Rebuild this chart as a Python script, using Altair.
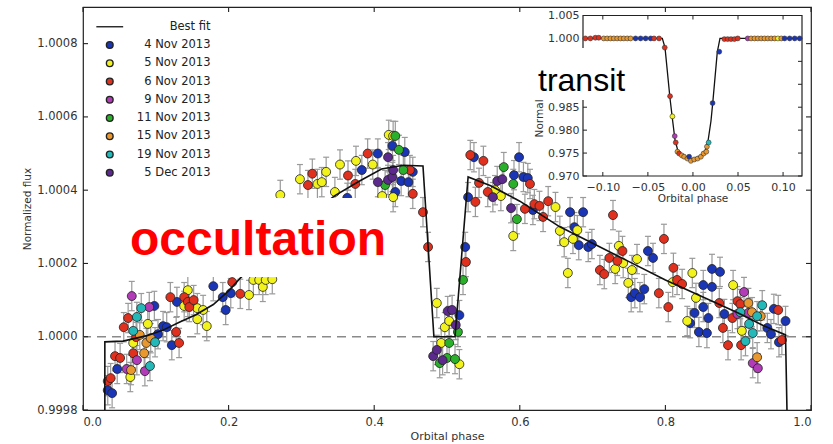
import altair as alt
import pandas as pd

# ---------------- data ----------------
SESSIONS = ["4 Nov 2013", "5 Nov 2013", "6 Nov 2013", "9 Nov 2013",
            "11 Nov 2013", "15 Nov 2013", "19 Nov 2013", "5 Dec 2013"]
COLORS = ["#1a35b5", "#f2f21c", "#e0301e", "#b23bb8",
          "#2ab02a", "#e8982e", "#25b8b8", "#5b2a8c"]

# occultation / phase-curve points: orbital phase and flux offset (ppm)
NOV04_PH = [0.034, 0.040, 0.047, 0.098, 0.103, 0.110, 0.115, 0.122, 0.129, 0.179, 0.192, 0.196, 0.203, 0.363,
            0.383, 0.405,
            0.425, 0.429, 0.437, 0.442, 0.447, 0.453, 0.517, 0.525, 0.529, 0.537, 0.592, 0.599, 0.605, 0.611,
            0.618, 0.669, 0.675, 0.681, 0.687, 0.694, 0.699, 0.753, 0.758, 0.765, 0.771, 0.776, 0.783, 0.834,
            0.840, 0.846, 0.852, 0.852, 0.857, 0.859, 0.864, 0.864, 0.875, 0.881, 0.940, 0.945, 0.949, 0.956, 0.965]
NOV04_PPM = [-146, -154, -88, 84, 7, 29, 26, -23, 95, 138, 108, 73, 119, 379,
             455, 500,
             521, 395, 425, 504, 422, 450, 59, 245, 381, 490, 441, 490, 436, 433,
             346, 340, 299, 250, 340, 245, 253, 108, 119, 108, 130, 234, 215, 37,
             65, 13, 141, 81, 10, 51, 185, 136, 177, 62, 24, 7, 76, -15, 43]
NOV05_PH = [0.065, 0.069, 0.089, 0.139, 0.144, 0.157, 0.157, 0.165, 0.170, 0.228, 0.234, 0.242, 0.247, 0.251,
            0.260, 0.271, 0.298, 0.322, 0.328, 0.334, 0.346, 0.353, 0.375, 0.398, 0.411, 0.420, 0.426, 0.426,
            0.486, 0.492, 0.497, 0.503, 0.517,
            0.566, 0.574, 0.591, 0.649, 0.655, 0.661, 0.666, 0.673, 0.679, 0.731, 0.736, 0.742, 0.749, 0.754,
            0.761, 0.810, 0.830, 0.837, 0.842, 0.893, 0.905]
NOV05_PPM = [-110, -17, 35, 84, 127, 78, 48, 73, 29, 114, 155, 155, 136, 155,
             157, 387, 430, 417, 422, 450, 395, 470, 480, 470, 384, 551, 548, 381,
             92, -17, 26, 43, -75,
             400, 384, 275, 354, 289, 258, 174, 267, 291, 185, 248, 201, 147, 182,
             212, 149, 43, 174, 106, 141, 16]
NOV06_PH = [0.034, 0.038, 0.044, 0.051, 0.056, 0.062, 0.069, 0.073, 0.120, 0.128, 0.132, 0.139, 0.144, 0.146,
            0.152, 0.205, 0.216, 0.309, 0.315, 0.364, 0.374, 0.391, 0.449, 0.453, 0.467, 0.474, 0.526, 0.532,
            0.539, 0.544, 0.550,
            0.556, 0.607, 0.614, 0.620, 0.627, 0.632, 0.639, 0.710, 0.716, 0.723, 0.728, 0.734, 0.741, 0.791,
            0.798, 0.804, 0.811, 0.816, 0.823, 0.874, 0.879, 0.886, 0.892, 0.899, 0.903, 0.904, 0.955, 0.960]
NOV06_PPM = [-121, -113, -53, -58, 26, 51, -45, -1, 108, 13, -17, 108, 95, 81,
             100, 149, 117, 414, 445, 440, 417, 500, 455, 390, 340, 245, 204, 496,
             368, 420, 480,
             395, 349, 417, 362, 357, 327, 370, 182, 171, 215, 332, 207, 234, 119,
             267, 81, 188, 155, 144, 92, 24, -23, 51, 97, 89, -23, 73, -9]
NOV09_PH = [0.060, 0.067, 0.074, 0.085, 0.091, 0.899, 0.908, 0.914, 0.920, 0.927]
NOV09_PPM = [-88, 111, -64, -94, 81, 62, 122, 65, -72, -86]
NOV11_PH = [0.415, 0.429, 0.434, 0.440, 0.490, 0.500, 0.503, 0.511, 0.515, 0.522, 0.578, 0.591, 0.596]
NOV11_PPM = [414, 548, 510, 455, -72, -58, -17, -61, 13, 155, 463, 417, 321]
NOV15_PH = [0.066, 0.078, 0.084, 0.087, 0.093, 0.914, 0.919, 0.926, 0.931]
NOV15_PPM = [-91, 5, -45, -17, -4, 92, 67, -56, 56]
NOV19_PH = [0.069, 0.074, 0.080, 0.092, 0.099, 0.903, 0.910, 0.915, 0.920, 0.926, 0.933]
NOV19_PPM = [16, 54, 78, -80, -15, 67, -12, 35, 10, 56, 86]
DEC05_PH = [0.405, 0.419, 0.419, 0.425, 0.426, 0.481, 0.486, 0.494, 0.501, 0.507, 0.512, 0.563, 0.569, 0.576, 0.588]
DEC05_PPM = [422, 490, 428, 436, 455, -53, -36, -64, 70, 73, 32, 381, 425, 430, 351]

PHASES = [NOV04_PH, NOV05_PH, NOV06_PH, NOV09_PH, NOV11_PH, NOV15_PH, NOV19_PH, DEC05_PH]
PPMS = [NOV04_PPM, NOV05_PPM, NOV06_PPM, NOV09_PPM, NOV11_PPM, NOV15_PPM, NOV19_PPM, DEC05_PPM]
ERR_PPM = [40, 40, 40, 40, 40, 40, 40, 40]

# best-fit model (main panel)
FIT_PH = [0.030, 0.030, 0.055, 0.088, 0.110, 0.133, 0.155, 0.179, 0.200, 0.216, 0.250, 0.280, 0.310,
          0.346, 0.380, 0.410, 0.440, 0.467, 0.482, 0.511, 0.529, 0.560, 0.600, 0.655, 0.700, 0.750,
          0.800, 0.850, 0.900, 0.935, 0.965, 0.967]
FIT_PPM = [-200, -14, -12, 3, 18, 40, 60, 88, 125, 160, 225, 280, 330,
           385, 425, 458, 468, 466, 0, 0, 436, 412, 370, 300, 255, 205,
           155, 110, 65, 30, 5, -200]

# transit inset
TR_PH = [-0.1194, -0.1138, -0.1083, -0.1045, -0.0990, -0.0952, -0.0915, -0.0878, -0.0841, -0.0804, -0.0767,
         -0.0729, -0.0692, -0.0637, -0.0581, -0.0525, -0.0469, -0.0432, -0.0376, -0.0313, -0.0254, -0.0228,
         -0.0202, -0.0191, -0.0172, -0.0153, -0.0124, -0.0098, -0.0061, -0.0042, -0.0023, 0.0014, 0.0051,
         0.0088, 0.0118, 0.0148, 0.0155, 0.0174, 0.0218, 0.0292, 0.0348, 0.0385, 0.0422, 0.0460, 0.0497,
         0.0608, 0.0645, 0.0683, 0.0720, 0.0757, 0.0794, 0.0831, 0.0868, 0.0906, 0.0943, 0.0980, 0.1017,
         0.1073, 0.1129, 0.1184]
TR_FLUX = [1.0000, 1.0000, 1.00015, 1.00015, 1.0000, 1.0000, 1.0000, 1.0000, 1.0000, 1.0000, 1.0000,
           1.0000, 1.0000, 1.0000, 1.0000, 1.0000, 1.0000, 1.0000, 1.0000, 0.9980, 0.9874, 0.9830,
           0.9787, 0.9773, 0.9753, 0.9749, 0.9745, 0.9742, 0.9738, 0.9742, 0.9733, 0.9736, 0.9738,
           0.9742, 0.9749, 0.9753, 0.9764, 0.9773, 0.9859, 0.9971, 0.99985, 0.99985, 0.99985, 0.99985, 1.0000,
           1.0000, 1.0000, 1.0000, 1.0000, 1.0000, 1.0000, 1.0000, 1.0000, 1.0000, 1.0000, 1.0000, 1.0000,
           1.0000, 1.0000, 1.0000]
TR_SESSION = ["6 Nov 2013"] * 4 + ["15 Nov 2013"] * 9 + ["4 Nov 2013"] * 4 + ["6 Nov 2013"] * 4 + \
             ["5 Nov 2013", "9 Nov 2013", "6 Nov 2013", "15 Nov 2013", "6 Nov 2013", "15 Nov 2013",
              "15 Nov 2013", "15 Nov 2013", "4 Nov 2013", "15 Nov 2013", "15 Nov 2013", "15 Nov 2013",
              "15 Nov 2013", "15 Nov 2013", "15 Nov 2013", "15 Nov 2013", "19 Nov 2013", "4 Nov 2013",
              "4 Nov 2013"] + ["6 Nov 2013"] * 5 + ["9 Nov 2013"] + ["15 Nov 2013"] * 8 + \
             ["5 Nov 2013", "15 Nov 2013"] + ["4 Nov 2013"] * 4
TFIT_PH = [-0.122, -0.034, -0.031, -0.0255, -0.0225, -0.020, -0.017, -0.012, -0.006, -0.002, 0.003,
           0.009, 0.014, 0.017, 0.020, 0.022, 0.027, 0.030, 0.121]
TFIT_FLUX = [1.0, 1.0, 0.998, 0.987, 0.982, 0.978, 0.9757, 0.9745, 0.9739, 0.9737, 0.9739,
             0.9745, 0.9757, 0.978, 0.982, 0.986, 0.997, 1.0, 1.0]

MAIN_X_TICKS = [0.0, 0.2, 0.4, 0.6, 0.8, 1.0]
MAIN_Y_TICKS = [0.9998, 1.0000, 1.0002, 1.0004, 1.0006, 1.0008]
INSET_X_TICKS = [-0.10, -0.05, 0.00, 0.05, 0.10]
INSET_Y_TICKS = [0.970, 0.975, 0.980, 0.985, 0.990, 0.995, 1.000, 1.005]
MAIN_XDOM = [0.0, 1.0]
MAIN_YDOM = [0.9998, 1.0009]
INSET_XDOM = [-0.122, 0.121]
INSET_YDOM = [0.970, 1.005]

FONT = "DejaVu Sans"
W, H = 728, 403
TICK_COL = "#222"
INSET_PX = [500, 719]      # inset placement inside the main plot area (pixels)
INSET_PY = [169, 8.5]

# ---------------- tables ----------------
rows = []
for s, phs, pps, e in zip(SESSIONS, PHASES, PPMS, ERR_PPM):
    for p, v in zip(phs, pps):
        rows.append({"session": s, "phase": p, "flux": 1 + v * 1e-6,
                     "lo": 1 + (v - e) * 1e-6, "hi": 1 + (v + e) * 1e-6})
pts = pd.DataFrame(rows)
fit = pd.DataFrame({"phase": FIT_PH, "flux": [1 + v * 1e-6 for v in FIT_PPM], "i": range(len(FIT_PH))})
tr = pd.DataFrame({"tphase": TR_PH, "tflux": TR_FLUX, "session": TR_SESSION})
tfit = pd.DataFrame({"tphase": TFIT_PH, "tflux": TFIT_FLUX, "i": range(len(TFIT_PH))})

# inward tick segments (length in pixels converted to data units of each scale)
def tick_rows(xticks, yticks, xdom, ydom, width_px, height_px, length_px):
    lx = length_px * (xdom[1] - xdom[0]) / width_px
    ly = length_px * (ydom[1] - ydom[0]) / height_px
    out = []
    for t in xticks:
        out.append({"a": t, "a2": t, "b": ydom[0], "b2": ydom[0] + ly})
        out.append({"a": t, "a2": t, "b": ydom[1] - ly, "b2": ydom[1]})
    for t in yticks:
        out.append({"a": xdom[0], "a2": xdom[0] + lx, "b": t, "b2": t})
        out.append({"a": xdom[1] - lx, "a2": xdom[1], "b": t, "b2": t})
    return pd.DataFrame(out)

main_ticks = tick_rows(MAIN_X_TICKS, MAIN_Y_TICKS, MAIN_XDOM, MAIN_YDOM, W, H, 5)
inset_ticks = tick_rows(INSET_X_TICKS, INSET_Y_TICKS, INSET_XDOM, INSET_YDOM,
                        INSET_PX[1] - INSET_PX[0], INSET_PY[0] - INSET_PY[1], 4)

XS = alt.Scale(domain=MAIN_XDOM, nice=False, zero=False)
YS = alt.Scale(domain=MAIN_YDOM, nice=False, zero=False)
AX_X = alt.Axis(values=MAIN_X_TICKS, format=".1f", title="Orbital phase", grid=False, domain=False,
                ticks=False, labelFontSize=11.5, labelColor="#333", labelFont=FONT,
                labelPadding=6, titleFont=FONT, titleFontSize=11, titleFontWeight="normal",
                titleColor="#333", titlePadding=3)
AX_Y = alt.Axis(values=MAIN_Y_TICKS, format=".4f", title="Normalized flux", grid=False, domain=False,
                ticks=False, labelFontSize=11.5, labelColor="#333", labelFont=FONT,
                labelPadding=6, titleFont=FONT, titleFontSize=10.5, titleFontWeight="normal",
                titleColor="#333", titlePadding=4)

def mx(field="phase"):
    return alt.X(f"{field}:Q", scale=XS, axis=AX_X)

def my(field="flux"):
    return alt.Y(f"{field}:Q", scale=YS, axis=AX_Y)

LEG = alt.Legend(title=None, orient="none", legendX=21, legendY=14, symbolSize=45, padding=0,
                 labelFontSize=11.5, labelFont=FONT, labelColor="#222", labelAlign="right",
                 rowPadding=5.25, symbolStrokeColor="#222", symbolStrokeWidth=1.4, labelOffset=95)
DOMAIN = ["Best fit"] + SESSIONS
COLOR = alt.Color("session:N", scale=alt.Scale(domain=DOMAIN, range=["#111111"] + COLORS), legend=LEG)
SHAPE = alt.Shape("session:N", scale=alt.Scale(domain=DOMAIN, range=["M-4,0L4,0"] + ["circle"] * 8),
                  legend=LEG)

base = alt.Chart(pts)
zero_line = alt.Chart(pd.DataFrame({"flux": [1.0]})).mark_rule(
    color="#8a8a8a", strokeWidth=1.6, strokeDash=[9, 6]).encode(y=my())
bars = base.mark_rule(color="#9a9a9a", strokeWidth=1.2).encode(x=mx(), y=my("lo"), y2="hi")
cap_lo = base.mark_point(shape="stroke", size=36, color="#9a9a9a", strokeWidth=1.2, opacity=1).encode(
    x=mx(), y=my("lo"))
cap_hi = base.mark_point(shape="stroke", size=36, color="#9a9a9a", strokeWidth=1.2, opacity=1).encode(
    x=mx(), y=my("hi"))
dots = base.mark_point(filled=True, size=80, stroke="#222", strokeWidth=0.8, opacity=1).encode(
    x=mx(), y=my(), color=COLOR, shape=SHAPE)
fit_line = alt.Chart(fit).mark_line(color="#111", strokeWidth=1.6).encode(x=mx(), y=my(), order="i:Q")
frame_ticks = alt.Chart(main_ticks).mark_rule(color=TICK_COL, strokeWidth=1.1).encode(
    x=mx("a"), x2="a2", y=my("b"), y2="b2")

main = alt.layer(zero_line, bars, cap_lo, cap_hi, dots, fit_line, frame_ticks)

# ---------------- inset ----------------
IXS = alt.Scale(domain=INSET_XDOM, range=INSET_PX, nice=False, zero=False)
IYS = alt.Scale(domain=INSET_YDOM, range=INSET_PY, nice=False, zero=False)
IAX_X = alt.Axis(orient="bottom", offset=-(H - INSET_PY[0]), values=INSET_X_TICKS, format=".2f",
                 title="Orbital phase", grid=False, domain=False, ticks=False,
                 labelFontSize=11, labelColor="#333", labelFont=FONT, labelPadding=5,
                 titleFont=FONT, titleFontSize=10.5, titleFontWeight="normal", titleColor="#333",
                 titlePadding=1)
IAX_Y = alt.Axis(orient="left", offset=-INSET_PX[0], values=INSET_Y_TICKS, format=".3f",
                 title="Normalized flux", grid=False, domain=False, ticks=False,
                 labelFontSize=11, labelColor="#333", labelFont=FONT, labelPadding=4,
                 titleFont=FONT, titleFontSize=10.5, titleFontWeight="normal", titleColor="#333",
                 titlePadding=3)

def ix(field="tphase"):
    return alt.X(f"{field}:Q", scale=IXS, axis=IAX_X)

def iy(field="tflux"):
    return alt.Y(f"{field}:Q", scale=IYS, axis=IAX_Y)

frame_df = pd.DataFrame({"tphase": [INSET_XDOM[0]], "tphase2": [INSET_XDOM[1]],
                         "tflux": [INSET_YDOM[0]], "tflux2": [INSET_YDOM[1]]})
inset_bg = alt.Chart(frame_df).mark_rect(fill="white", stroke="#222", strokeWidth=1.2).encode(
    x=ix(), x2="tphase2", y=iy(), y2="tflux2")
inset_tk = alt.Chart(inset_ticks).mark_rule(color=TICK_COL, strokeWidth=1.0).encode(
    x=ix("a"), x2="a2", y=iy("b"), y2="b2")
inset_dots = alt.Chart(tr).mark_point(filled=True, size=24, stroke="#333", strokeWidth=0.6, opacity=1).encode(
    x=ix(), y=iy(), color=COLOR, shape=SHAPE)
inset_fit = alt.Chart(tfit).mark_line(color="#111", strokeWidth=1.3).encode(x=ix(), y=iy(), order="i:Q")
inset = alt.layer(inset_bg, inset_tk, inset_fit, inset_dots)

# ---------------- annotation boxes ----------------
def ax_(field):
    return alt.X(f"{field}:Q", scale=XS, axis=None)

def ay_(field):
    return alt.Y(f"{field}:Q", scale=YS, axis=None)

OCC_BOX = {"x": 0.058, "x2": 0.42, "y": 1.000163, "y2": 1.000379}
TRA_BOX = {"x": 0.608, "x2": 0.755, "y": 1.000646, "y2": 1.000788}
boxes = pd.DataFrame([OCC_BOX, TRA_BOX])
box_marks = alt.Chart(boxes).mark_rect(fill="white").encode(x=ax_("x"), x2="x2", y=ay_("y"), y2="y2")
labels = pd.DataFrame({"x": [0.0646, 0.625], "y": [1.000223, 1.000671],
                       "t": ["occultation", "transit"]})
occ_text = alt.Chart(labels.iloc[[0]]).mark_text(
    font="Liberation Sans", fontSize=48, fontWeight="bold", color="#ff0000", align="left",
    baseline="alphabetic").encode(x=ax_("x"), y=ay_("y"), text="t:N")
tra_text = alt.Chart(labels.iloc[[1]]).mark_text(
    font="Liberation Sans", fontSize=32, color="#000000", align="left",
    baseline="alphabetic").encode(x=ax_("x"), y=ay_("y"), text="t:N")
annot = alt.layer(box_marks, occ_text, tra_text)

chart = alt.layer(main, inset, annot).resolve_scale(x="independent", y="independent").properties(
    width=W, height=H, autosize=alt.AutoSizeParams(type="none"),
    padding={"left": 83, "top": 7, "right": 22, "bottom": 34},
    background="white",
).configure_view(stroke="#222", strokeWidth=1.2)

chart.save("out.html", embed_options={"renderer": "svg", "actions": False})
